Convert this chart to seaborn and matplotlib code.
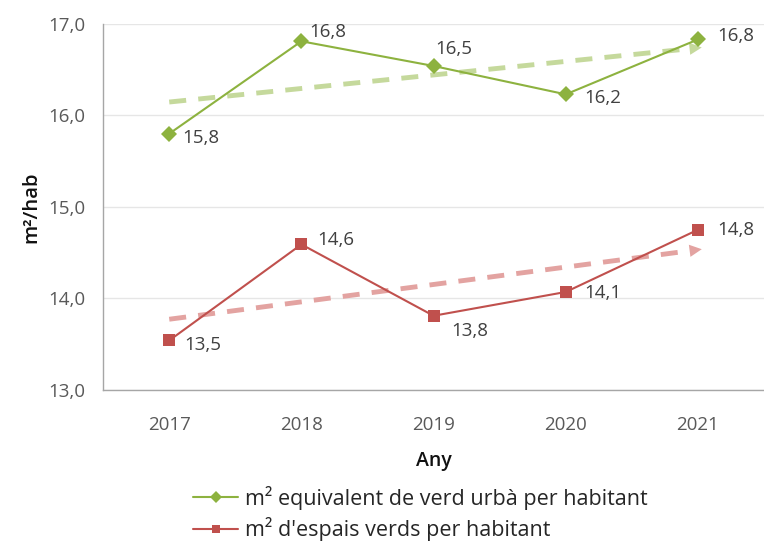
import numpy as np
import pandas as pd
import seaborn as sns
import matplotlib.pyplot as plt

# dades
anys = ["2017", "2018", "2019", "2020", "2021"]
verd_urba = [15.80, 16.81, 16.54, 16.23, 16.83]
espais_verds = [13.54, 14.59, 13.81, 14.07, 14.75]
serie_verd = "m² equivalent de verd urbà per habitant"
serie_espais = "m² d'espais verds per habitant"

# desplaçament de les etiquetes (px)
offs_verd = [(13, -4), (8, 9), (2, 17), (19, -4), (19, 3)]
offs_espais = [(15, -5), (16, 4), (18, -15), (19, -1), (19, 0)]

df = pd.DataFrame({
    "idx": list(range(len(anys))) * 2,
    "valor": verd_urba + espais_verds,
    "serie": [serie_verd] * len(anys) + [serie_espais] * len(anys),
})

sns.set_theme(style="white")
plt.rcParams["font.family"] = ["Open Sans", "DejaVu Sans"]

fig = plt.figure(figsize=(7.64, 5.43), dpi=100)
ax = fig.add_axes([0.135, 0.282, 0.865, 0.674])

verd = "#8db23f"
vermell = "#c0504d"
verd_clar = "#c5d99c"
vermell_clar = "#e3a3a1"

sns.lineplot(data=df, x="idx", y="valor", hue="serie", style="serie",
             markers={serie_verd: "D", serie_espais: "s"}, dashes=False,
             palette={serie_verd: verd, serie_espais: vermell},
             markersize=8, linewidth=1.5, markeredgewidth=0, ax=ax, zorder=3)

# línies de tendència
x = np.arange(len(anys))
for vals, col in [(verd_urba, verd_clar), (espais_verds, vermell_clar)]:
    m, b = np.polyfit(x, vals, 1)
    ax.plot([0, 3.88], [b, m * 3.88 + b], color=col, lw=3.5, ls=(0, (3.5, 2.5)),
            solid_capstyle="butt", zorder=2)
    ax.annotate("", xy=(4.05, m * 4.05 + b), xytext=(3.85, m * 3.85 + b),
                arrowprops=dict(arrowstyle="-|>", color=col, lw=0, mutation_scale=22),
                zorder=2)

# etiquetes
for vals, offs in [(verd_urba, offs_verd), (espais_verds, offs_espais)]:
    for i, (v, o) in enumerate(zip(vals, offs)):
        ax.annotate(f"{v:.1f}".replace(".", ","), (i, v), xytext=o,
                    textcoords="offset pixels", ha="left", va="center",
                    fontsize=13.5, color="#404040")

ax.set_xlim(-0.5, 4.5)
ax.set_ylim(13, 17)
ax.set_yticks([13, 14, 15, 16, 17])
ax.set_yticklabels([f"{t},0" for t in [13, 14, 15, 16, 17]])
ax.set_xticks(x)
ax.set_xticklabels(anys)
ax.set_xticks(np.arange(-0.5, 5, 1), minor=True)
ax.tick_params(axis="x", which="major", length=0, pad=19, labelsize=13.5, labelcolor="#595959")
ax.tick_params(axis="x", which="minor", length=7, color="#a6a6a6", width=1, direction="out")
ax.tick_params(axis="y", length=7, color="#a6a6a6", width=1, direction="out",
               labelsize=13.5, labelcolor="#595959", pad=6)
ax.yaxis.grid(True, color="#e6e6e6", lw=1)
for s in ["top", "right"]:
    ax.spines[s].set_visible(False)
for s in ["left", "bottom"]:
    ax.spines[s].set_color("#a6a6a6")
    ax.spines[s].set_linewidth(1)

ax.set_xlabel("Any", fontsize=14, color="#111111", labelpad=12, fontweight="semibold")
ax.set_ylabel("m²/hab", fontsize=14.5, color="#111111", labelpad=5, fontweight="semibold")

leg = ax.legend(loc="upper left", bbox_to_anchor=(0.136, -0.262), frameon=False,
                fontsize=15.5, handlelength=2.1, labelspacing=0.35, handletextpad=0.3,
                borderaxespad=0, borderpad=0, labelcolor="#262626")
for h in leg.legend_handles:
    h.set_markersize(6)

fig.savefig("out.png", dpi=100)
